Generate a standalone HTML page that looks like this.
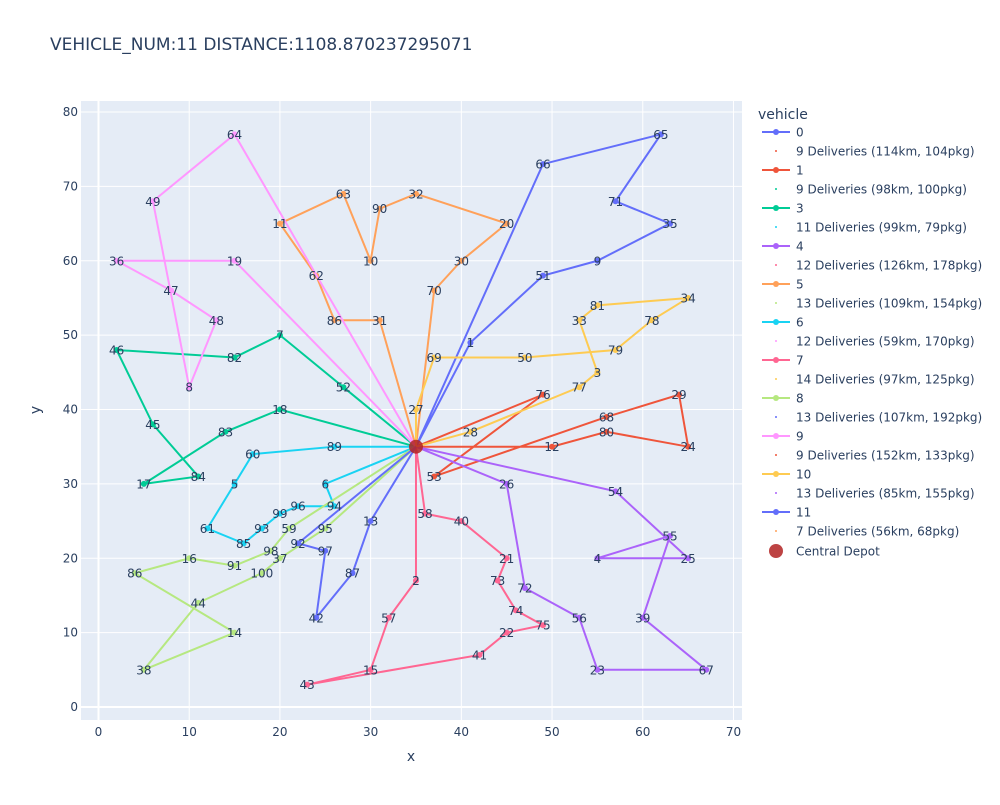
<!DOCTYPE html>
<html><head><meta charset="utf-8"><style>
body{margin:0;background:#fff;font-family:"Liberation Sans","DejaVu Sans",sans-serif;}
svg text{font-family:"DejaVu Sans","Liberation Sans",sans-serif;fill:#2a3f5f;}
</style></head><body>
<svg id="chart" width="1000" height="800">
<rect x="0" y="0" width="1000" height="800" fill="#fff"/>
<text x="50" y="50" font-size="17">VEHICLE_NUM:11 DISTANCE:1108.870237295071</text>
<rect x="81" y="101" width="661" height="619" fill="#e5ecf6"/>
<g id="grid"></g><g id="routes"></g><g id="labels"></g><g id="depot"></g><g id="axes"></g><g id="legend"></g>
</svg>
<script>
const nodeIds=['1','2','3','4','5','6','7','8','9','10','11','12','13','14','15','16','17','18','19','20','21','22','23','24','25','26','27','28','29','30','31','32','33','34','35','36','37','38','39','40','41','42','43','44','45','46','47','48','49','50','51','52','53','54','55','56','57','58','59','60','61','62','63','64','65','66','67','68','69','70','71','72','73','74','75','76','77','78','79','80','81','82','83','84','85','86','86b','87','89','90','91','92','93','94','95','96','97','98','99','100'];
const nodeX=[41,35,55,55,15,25,20,10,55,30,20,50,30,15,30,10,5,20,15,45,45,45,55,65,65,45,35,41,64,40,31,35,53,65,63,2,20,5,60,40,42,24,23,11,6,2,8,13,6,47,49,27,37,57,63,53,32,36,21,17,12,24,27,15,62,49,67,56,37,37,57,47,44,46,49,49,53,61,57,56,55,15,14,11,16,26,4,28,26,31,15,22,18,26,25,22,25,19,20,18];
const nodeY=[49,17,45,20,30,30,50,43,60,60,65,35,25,10,5,20,30,40,60,65,20,10,5,35,20,30,40,37,42,60,52,69,52,55,65,60,20,5,12,25,7,12,3,14,38,48,56,52,68,47,58,43,31,29,23,12,12,26,24,34,24,58,69,77,77,73,5,39,47,56,68,16,17,13,11,42,43,52,48,37,54,47,37,31,22,52,18,18,35,67,19,22,24,27,24,27,21,21,26,18];
const depotX=35, depotY=35;
const vehicles=['0','1','3','4','5','6','7','8','9','10','11'];
const vehicleColors=['#636efa','#EF553B','#00cc96','#ab63fa','#FFA15A','#19d3f3','#FF6692','#B6E880','#FF97FF','#FECB52','#636efa'];
const routes=[
['1','51','9','35','71','65','66'],
['76','53','68','29','24','80','12'],
['52','7','82','46','45','84','17','83','18'],
['26','72','56','23','67','39','55','4','25','54'],
['31','86','62','11','63','10','90','32','20','30','70'],
['89','60','5','61','85','93','99','96','94','6'],
['58','40','21','73','74','75','22','41','43','15','57','2'],
['59','98','91','16','86b','14','38','44','100','37','95'],
['19','36','47','48','8','49','64'],
['27','69','50','79','78','34','81','33','3','77','28'],
['92','97','42','87','13']
];
const summaries=['9 Deliveries (114km, 104pkg)','9 Deliveries (98km, 100pkg)','11 Deliveries (99km, 79pkg)','12 Deliveries (126km, 178pkg)','13 Deliveries (109km, 154pkg)','12 Deliveries (59km, 170pkg)','14 Deliveries (97km, 125pkg)','13 Deliveries (107km, 192pkg)','9 Deliveries (152km, 133pkg)','13 Deliveries (85km, 155pkg)','7 Deliveries (56km, 68pkg)'];
const summaryColors=['#EF553B','#00cc96','#19d3f3','#FF6692','#B6E880','#FF97FF','#FECB52','#636efa','#EF553B','#ab63fa','#FFA15A'];
const xTicks=[0,10,20,30,40,50,60,70];
const yTicks=[0,10,20,30,40,50,60,70,80];

const NS='http://www.w3.org/2000/svg';
const X0=81,X1=742,Y0=720,Y1=101,xmin=-1.929,xmax=70.94,ymin=-1.748,ymax=81.48;
function sx(v){return X0+(v-xmin)/(xmax-xmin)*(X1-X0);}
function sy(v){return Y0-(v-ymin)/(ymax-ymin)*(Y0-Y1);}
function mk(tag,attrs,parent){const e=document.createElementNS(NS,tag);for(const k in attrs)e.setAttribute(k,attrs[k]);document.getElementById(parent).appendChild(e);return e;}
xTicks.forEach(t=>{
  const l=mk('line',{x1:sx(t),x2:sx(t),y1:Y1,y2:Y0,stroke:'#fff','stroke-width':t===0?2:1},'grid');
  
  
  const tx=mk('text',{x:sx(t),y:736,'font-size':12,'text-anchor':'middle'},'axes');tx.textContent=t;
  
  
});
yTicks.forEach(t=>{
  const l=mk('line',{x1:X0,x2:X1,y1:sy(t),y2:sy(t),stroke:'#fff','stroke-width':t===0?2:1},'grid');
  
  
  const tx=mk('text',{x:78,y:sy(t)+4,'font-size':12,'text-anchor':'end'},'axes');tx.textContent=t;
  
  
});
let xt=mk('text',{x:411,y:761,'font-size':14,'text-anchor':'middle'},'axes');xt.textContent='x';


let yt=mk('text',{x:40,y:410,'font-size':14,'text-anchor':'middle',transform:'rotate(-90 40 410)'},'axes');yt.textContent='y';


function pos(id){const i=nodeIds.indexOf(id);return [nodeX[i],nodeY[i]];}
routes.forEach((r,vi)=>{
  const pts=[[depotX,depotY]].concat(r.map(pos)).concat([[depotX,depotY]]);
  const pl=mk('polyline',{points:pts.map(p=>sx(p[0])+','+sy(p[1])).join(' '),fill:'none',stroke:vehicleColors[vi],'stroke-width':2},'routes');
  
  
  r.forEach(id=>{
    const p=pos(id);
    const c=mk('circle',{cx:sx(p[0]),cy:sy(p[1]),r:3,fill:vehicleColors[vi]},'routes');
    
    
    const t=mk('text',{x:sx(p[0]),y:sy(p[1])+4.5,'font-size':12,'text-anchor':'middle'},'labels');
    t.textContent=id.replace('b','');
    
    
  });
});
const d=mk('circle',{cx:sx(depotX),cy:sy(depotY),r:7,fill:'#b22222','fill-opacity':0.85},'depot');


let lt=mk('text',{x:758,y:119,'font-size':14},'legend');lt.textContent='vehicle';


vehicles.forEach((v,i)=>{
  const y=132+i*38;
  const g=mk('g',{},'legend');
  
  
  mk('line',{x1:762,x2:790,y1:y,y2:y,stroke:vehicleColors[i],'stroke-width':2},'legend');
  mk('circle',{cx:776,cy:y,r:3,fill:vehicleColors[i]},'legend');
  const t=mk('text',{x:796,y:y+4.5,'font-size':12},'legend');t.textContent=v;
  
  
  mk('circle',{cx:776,cy:y+19,r:1,fill:summaryColors[i]},'legend');
  const s=mk('text',{x:796,y:y+23.5,'font-size':12},'legend');s.textContent=summaries[i];
  
  
});
const dc=mk('circle',{cx:776,cy:551,r:7,fill:'#b22222','fill-opacity':0.85},'legend');


const dt=mk('text',{x:796,y:555.5,'font-size':12},'legend');dt.textContent='Central Depot';


</script>
</body></html>
